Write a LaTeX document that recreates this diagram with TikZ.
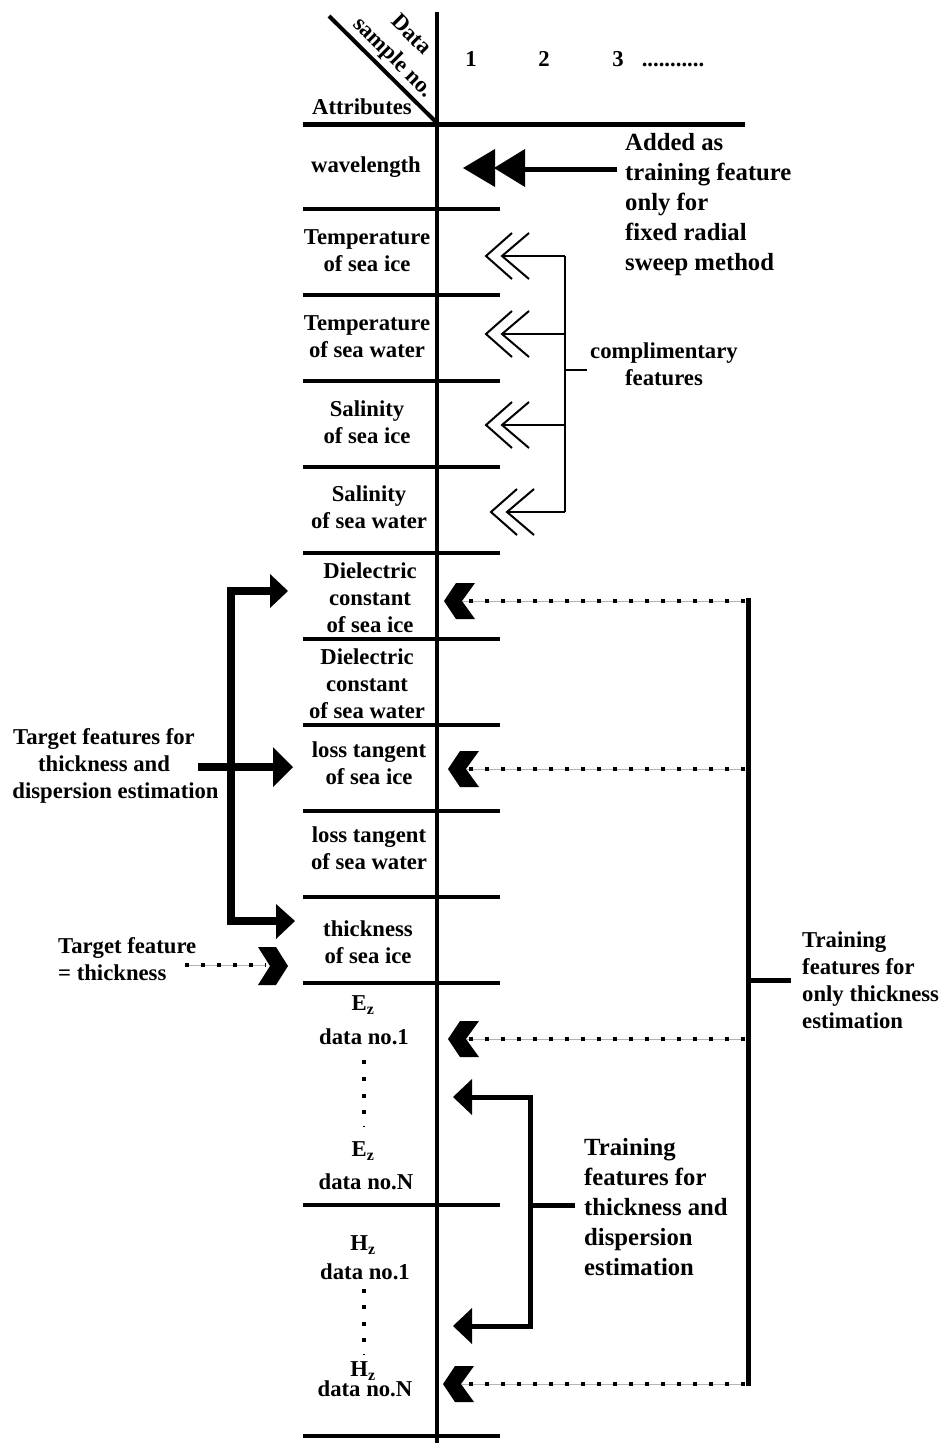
\documentclass[tikz,border=0pt]{standalone}
\usepackage{fontspec}
\setmainfont{Liberation Serif}
\begin{document}
\begin{tikzpicture}[x=1pt,y=-1pt,
  lbl/.style={font=\bfseries\fontsize{22.7}{27}\selectfont, align=center, inner sep=0pt},
  lbll/.style={font=\bfseries\fontsize{22.7}{27}\selectfont, align=left, inner sep=0pt, anchor=west},
  big/.style={font=\bfseries\fontsize{24.7}{30}\selectfont, align=left, inner sep=0pt, anchor=west},
  rule/.style={line width=4pt},
  thinline/.style={line width=2pt},
  sqdots/.style={preaction={draw,gray!60,line width=1pt}, line width=4pt, dash pattern=on 4pt off 12pt},
  fatline/.style={line width=8pt},
  medline/.style={line width=5pt}
]
\useasboundingbox (0,0) rectangle (941,1443);

% ---- table grid ----
\draw[rule] (437,12) -- (437,1443);
\draw[line width=5pt] (303,124) -- (745,124);
\draw[rule] (329,16) -- (436,122);
\foreach \y in {209,295,381,467,553,639,725,811,897,983,1205,1436}
  \draw[rule] (303,\y) -- (500,\y);

% ---- header ----
\node[lbl] (attr) at (362,107) {Attributes};
\node[lbl, rotate=-45] (data) at (412,34) {Data};
\node[lbl, rotate=-45] (sno) at (393,58) {sample no.};
\node[lbl, anchor=base] (c1) at (471,66) {1};
\node[lbl, anchor=base] (c2) at (544,66) {2};
\node[lbl, anchor=base] (c3) at (618,66) {3};
\node[lbl, anchor=base] (cdots) at (673,66) {...........};

% ---- attribute labels ----
\node[lbl] (wl) at (366,167) {wavelength};
\node[lbl] (tsi) at (367,250.5) {Temperature\\of sea ice};
\node[lbl] (tsw) at (367,336.5) {Temperature\\of sea water};
\node[lbl] (ssi) at (367,422.5) {Salinity\\of sea ice};
\node[lbl] (ssw) at (369,507.5) {Salinity\\of sea water};
\node[lbl] (dsi) at (370,598) {Dielectric\\constant\\of sea ice};
\node[lbl] (dsw) at (367,684) {Dielectric\\constant\\of sea water};
\node[lbl] (lsi) at (369,763.5) {loss tangent\\of sea ice};
\node[lbl] (lsw) at (369,848.5) {loss tangent\\of sea water};
\node[lbl] (thk) at (368,942) {thickness\\of sea ice};
\node[lbl] (ez1a) at (363,1005) {E\textsubscript{z}};
\node[lbl] (ez1b) at (364,1037) {data no.1};
\node[lbl] (eznA) at (363,1151) {E\textsubscript{z}};
\node[lbl] (eznB) at (366,1182) {data no.N};
\node[lbl] (hz1a) at (363,1245) {H\textsubscript{z}};
\node[lbl] (hz1b) at (365,1272) {data no.1};
\node[lbl] (hznA) at (363,1371) {H\textsubscript{z}};
\node[lbl] (hznB) at (365,1389) {data no.N};
\foreach \y in {1062,1079,1096,1112,1291,1307,1324,1340}
  \fill (362,\y-2) rectangle (366,\y+2);
\fill (363,1125.5) rectangle (365,1126.5);
\fill (363,1353.5) rectangle (365,1354.5);

% ---- wavelength arrow ----
\node[big] (added) at (625,205) {Added as\\training feature\\only for\\fixed radial\\sweep method};
\coordinate (wlstart) at (617,169);
\coordinate (wlhead) at (523,169);
\draw[medline] (wlstart) -- (wlhead);
\fill (463,168) -- (495,149) -- (495,187) -- cycle;
\fill (494,168) -- (525,149) -- (525,187) -- cycle;

% ---- complimentary features ----
\node[lbl] (comp) at (664,364.5) {complimentary\\features};
\coordinate (cbtop) at (565,256);
\coordinate (cbbot) at (565,512);
\draw[thinline] (cbtop) -- (cbbot);
\draw[thinline] (565,370) -- (587,370);
\foreach \y/\dx in {256/0,334/0,425/0,512/5} {
  \draw[thinline] (565,\y) -- (502+\dx,\y);
  \draw[thinline, line join=miter] (512+\dx,\y-23) -- (486+\dx,\y) -- (512+\dx,\y+23);
  \draw[thinline, line join=miter] (529+\dx,\y-23) -- (502+\dx,\y) -- (529+\dx,\y+23);
}

% ---- target features (left) ----
\node[lbl] (tgt) at (104,765.5) {Target features for\\thickness and\\\hspace*{23pt}dispersion estimation};
\coordinate (tvtop) at (231,587);
\coordinate (tvbot) at (231,925);
\draw[fatline] (tvtop) -- (tvbot);
\draw[fatline] (227,591) -- (272,591);
\fill (270,574) -- (288,591) -- (270,608) -- cycle;
\draw[fatline] (198,767) -- (275,767);
\fill (273,747) -- (293,767) -- (273,787) -- cycle;
\draw[fatline] (227,921) -- (278,921);
\fill (276,904) -- (295,921) -- (276,939) -- cycle;

\node[lbll] (tgt2) at (58,959.5) {Target feature\\= thickness};
\coordinate (td1) at (185,965);
\coordinate (td2) at (266,965);
\draw[sqdots] (td1) -- (td2);
\fill (288,966) -- (276,947) -- (258,947) -- (270,966) -- (258,985) -- (276,985) -- cycle;

% ---- training features for only thickness ----
\node[lbll] (tr1) at (802,980.5) {Training\\features for\\only thickness\\estimation};
\coordinate (rvtop) at (748,598);
\coordinate (rvbot) at (748,1386);
\draw[medline] (rvtop) -- (rvbot);
\draw[medline] (748,980) -- (791,980);
\foreach \y/\x in {601/444,769/448,1039/448,1384/443} {
  \draw[sqdots] (745,\y) -- (\x+19,\y);
  \fill (\x,\y) -- (\x+12,\y-18) -- (\x+31,\y-18) -- (\x+18,\y) -- (\x+31,\y+18) -- (\x+12,\y+18) -- cycle;
}

% ---- training features for thickness and dispersion ----
\node[big] (tr2) at (584,1207) {Training\\features for\\thickness and\\dispersion\\estimation};
\coordinate (evtop) at (530,1095);
\coordinate (evbot) at (530,1329);
\draw[medline] (evtop) -- (evbot);
\draw[medline] (575,1205) -- (530,1205);
\draw[medline] (532,1097) -- (470,1097);
\fill (472,1079) -- (453,1097) -- (472,1115) -- cycle;
\draw[medline] (532,1326) -- (470,1326);
\fill (472,1308) -- (453,1326) -- (472,1344) -- cycle;
\end{tikzpicture}
\end{document}
